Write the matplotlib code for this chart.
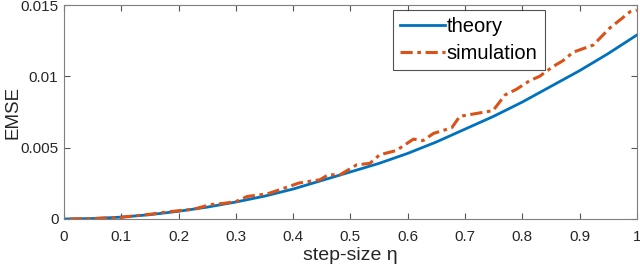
import matplotlib
matplotlib.use("Agg")
import matplotlib.pyplot as plt
from matplotlib.ticker import FixedLocator, FixedFormatter

theory_eta = [0.0, 0.05, 0.1, 0.15, 0.2, 0.25, 0.3, 0.35, 0.4, 0.45, 0.5,
              0.55, 0.6, 0.65, 0.7, 0.75, 0.8, 0.85, 0.9, 0.95, 1.0]
theory_emse = [0.0, 0.00003, 0.00013, 0.0003, 0.00054, 0.00083, 0.00119, 0.0016,
               0.0021, 0.0027, 0.0033, 0.0039, 0.0046, 0.0054, 0.0063, 0.0072,
               0.0082, 0.0093, 0.0104, 0.0116, 0.0129]

sim_eta = [0.01, 0.05, 0.10, 0.15, 0.17, 0.20, 0.226, 0.255, 0.28, 0.30, 0.32,
           0.355, 0.383, 0.41, 0.435, 0.447, 0.461, 0.482, 0.511, 0.534, 0.551,
           0.58, 0.61, 0.627, 0.645, 0.677, 0.691, 0.72, 0.749, 0.77, 0.79,
           0.813, 0.83, 0.854, 0.871, 0.889, 0.924, 0.953, 0.975, 0.988, 1.0]
sim_emse = [0.0, 0.00003, 0.00012, 0.00033, 0.00044, 0.00058, 0.00068, 0.00100,
            0.00110, 0.00122, 0.00158, 0.00176, 0.00214, 0.00252, 0.00268,
            0.00275, 0.0031, 0.0031, 0.0038, 0.0039, 0.0045, 0.0048, 0.0056,
            0.0055, 0.0060, 0.0064, 0.0072, 0.0074, 0.0076, 0.0087, 0.0091,
            0.0097, 0.0100, 0.0107, 0.0111, 0.0117, 0.0122, 0.0134, 0.0141,
            0.01453, 0.01465]

x_ticks = [0, 0.1, 0.2, 0.3, 0.4, 0.5, 0.6, 0.7, 0.8, 0.9, 1]
x_labels = ["0", "0.1", "0.2", "0.3", "0.4", "0.5", "0.6", "0.7", "0.8", "0.9", "1"]
y_ticks = [0, 0.005, 0.01, 0.015]
y_labels = ["0", "0.005", "0.01", "0.015"]

plt.rcParams['font.family'] = ['Liberation Sans', 'DejaVu Sans']

fig = plt.figure(figsize=(6.4, 2.7), dpi=100)
ax = fig.add_axes([0.1, 0.189, 0.895, 0.792])

ax.plot(theory_eta, theory_emse, color='#0072BD', lw=2.0, label='theory')
ax.plot(sim_eta, sim_emse, color='#D95319', lw=2.2, linestyle=(0, (4, 1.5, 1.2, 1.5)),
        label='simulation')

ax.set_xlim(0, 1)
ax.set_ylim(0, 0.015)
ax.xaxis.set_major_locator(FixedLocator(x_ticks))
ax.xaxis.set_major_formatter(FixedFormatter(x_labels))
ax.yaxis.set_major_locator(FixedLocator(y_ticks))
ax.yaxis.set_major_formatter(FixedFormatter(y_labels))

gray = '#262626'
for s in ax.spines.values():
    s.set_color('#7f7f7f')
    s.set_linewidth(0.8)
ax.tick_params(direction='in', length=4, width=0.8, colors='#555555',
               labelcolor=gray, labelsize=11, top=True, right=True)
ax.tick_params(axis='x', pad=8)
ax.tick_params(axis='y', pad=4)

ax.set_xlabel('step-size η', fontsize=14, color=gray)
ax.xaxis.set_label_coords(0.5, -0.13)
ax.xaxis.label.set_va('top')
ax.set_ylabel('EMSE', fontsize=13.5, color=gray)
ax.yaxis.set_label_coords(-0.074, 0.5)

leg = ax.legend(loc='upper left', bbox_to_anchor=(0.575, 0.977), fontsize=14.5,
                frameon=True, fancybox=False, handlelength=2.2, handletextpad=0.1,
                borderpad=0.35, labelspacing=0.4, borderaxespad=0.0)
leg.get_frame().set_edgecolor('#262626')
leg.get_frame().set_linewidth(0.8)
for t in leg.get_texts():
    t.set_color('black')

fig.savefig('out.png', dpi=100)
